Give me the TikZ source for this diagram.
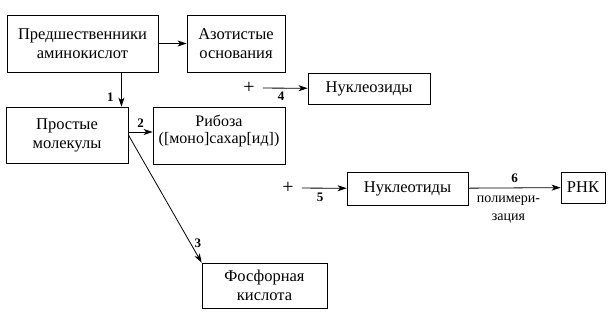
\documentclass[tikz,border=0pt]{standalone}
\usepackage{fontspec}
\setmainfont{Liberation Serif}
\usetikzlibrary{arrows.meta}

\tikzset{
  box/.style={draw, line width=0.8pt, inner sep=2pt, align=center,
    font=\fontsize{16.5}{19}\selectfont},
  num/.style={font=\fontsize{13}{15}\selectfont\bfseries, inner sep=1.5pt},
  arr/.style={->, >={Stealth[length=9pt, width=6pt, inset=2.5pt]}, line width=0.8pt},
}

\begin{document}
\begin{tikzpicture}[x=1pt, y=-1pt]
  \useasboundingbox (0,0) rectangle (613,322);

  % boxes
  \node[box, minimum width=151pt, minimum height=57pt] (pred) at (82.5,43.5) {Предшественники\\аминокислот};
  \node[box, minimum width=98pt, minimum height=57pt] (azot) at (236,43.5) {Азотистые\\основания};
  \node[box, minimum width=122pt, minimum height=56pt] (prost) at (67,135) {Простые\\молекулы};
  \node[box, minimum width=132pt, minimum height=57pt] (riboza) at (219,135.5) {};
  \node[box, draw=none, anchor=north, yshift=-6pt, font=\fontsize{16}{17.5}\selectfont] (ribozatext) at (riboza.north) {Рибоза\\([моно]сахар[ид])};
  \node[box, minimum width=122pt, minimum height=31pt] (nukleozid) at (369,88.5) {Нуклеозиды};
  \node[box, minimum width=121pt, minimum height=33pt] (nukleotid) at (407.5,188.5) {Нуклеотиды};
  \node[box, minimum width=44pt, minimum height=31pt] (rnk) at (583,187.5) {РНК};
  \node[box, minimum width=125pt, minimum height=45pt] (fosfor) at (264.5,285.5) {Фосфорная\\кислота};

  \node[font=\fontsize{20}{20}\selectfont, inner sep=0pt] (plus4) at (249,88) {+};
  \node[font=\fontsize{20}{20}\selectfont, inner sep=0pt] (plus5) at (288,188) {+};
  \coordinate (c1) at ([xshift=-7pt]prost.north east);

  % arrows
  \draw[arr] (pred) -- (azot);
  \draw[arr] (c1 |- pred.south) -- (c1) node[num, pos=0.72, left=6pt] {1};
  \draw[arr] ([yshift=3pt]prost.east) -- ([yshift=3pt]prost.east -| riboza.west)
    node[num, midway, above=3pt] {2};
  \draw[arr] (prost.east) -- (fosfor.north west) node[num, pos=0.85, right=2pt] {3};
  \draw[arr, shorten <=8pt] (plus4) -- (nukleozid) node[num, midway, below=2pt] {4};
  \draw[arr, shorten <=8pt] (plus5) -- (nukleotid) node[num, midway, below=3pt] {5};
  \draw[arr] (nukleotid) -- (rnk) node[num, midway, above=3pt] {6}
    node[box, draw=none, midway, below=8pt, xshift=-6pt, inner sep=0pt, font=\fontsize{14}{18}\selectfont] {полимери-\\зация};
\end{tikzpicture}
\end{document}
